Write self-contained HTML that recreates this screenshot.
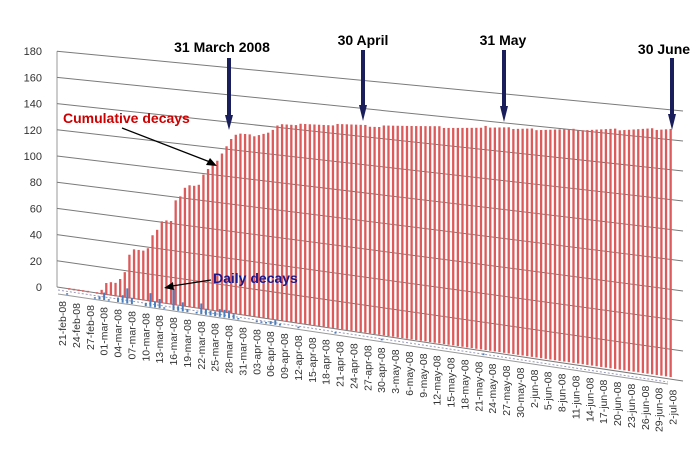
<!DOCTYPE html>
<html><head><meta charset="utf-8"><style>
html,body{margin:0;padding:0;background:#fff;}
svg{display:block;font-family:"Liberation Sans",Arial,sans-serif;}
</style></head><body>
<svg id="chart" width="700" height="456" viewBox="0 0 700 456" xmlns="http://www.w3.org/2000/svg">
<g id="grid"></g>
<g id="yaxis"></g>
<g id="bars"></g>
<g id="xaxis"></g>
<g font-weight="bold" font-size="14">
  <text x="222" y="52" text-anchor="middle" fill="#000">31 March 2008</text>
  <text x="363" y="45" text-anchor="middle" fill="#000">30 April</text>
  <text x="503" y="45" text-anchor="middle" fill="#000">31 May</text>
  <text x="664" y="54" text-anchor="middle" fill="#000">30 June</text>
  <text x="63" y="123" fill="#cc0000">Cumulative decays</text>
  <text x="213" y="283" fill="#1a1a8c">Daily decays</text>
</g>
<g>
  <g><rect x="227" y="58" width="4" height="60" fill="#1a1f5c"/><polygon points="225,115 233,115 229,130" fill="#1a1f5c"/></g>
  <g><rect x="361" y="50" width="4" height="58" fill="#1a1f5c"/><polygon points="359,105 367,105 363,121" fill="#1a1f5c"/></g>
  <g><rect x="502" y="50" width="4" height="59" fill="#1a1f5c"/><polygon points="500,106 508,106 504,122" fill="#1a1f5c"/></g>
  <g><rect x="670" y="58" width="4" height="59" fill="#1a1f5c"/><polygon points="668,114 676,114 672,130" fill="#1a1f5c"/></g>
  <line x1="122" y1="128" x2="210" y2="162" stroke="#000" stroke-width="1.3"/>
  <polygon points="217,166 206,165 210,158" fill="#000"/>
  <line x1="211" y1="280" x2="172" y2="286" stroke="#000" stroke-width="1.3"/>
  <polygon points="164,288 173,282 174,290" fill="#000"/>
</g>
</svg>
<script>
const cumulative = [0,1,1,1,1,1,0,1,3,8,9,9,12,17,29,33,33,33,35,44,48,54,55,55,69,72,78,80,80,81,88,92,95,98,103,108,113,116,117,117,117,116,117,118,119,121,124,125,125,125,125,126,126,126,126,126,126,126,126,127,127,127,127,127,127,127,126,126,126,127,127,127,127,127,127,127,127,127,127,127,127,127,126,126,126,126,126,126,126,126,126,127,126,126,126,126,126,125,125,125,125,125,124,124,124,124,124,124,124,124,124,123,123,123,123,123,123,123,123,123,122,122,122,122,122,122,122,122,121,121,121,121];
const daily = [0,1,0,0,0,0,0,1,2,5,1,0,3,5,10,4,0,0,2,9,4,6,1,0,14,3,6,2,0,1,7,4,3,3,5,5,5,3,1,0,0,0,1,1,1,2,3,1,0,0,0,1,0,0,0,0,0,0,0,1,0,0,0,0,0,0,0,0,0,1,0,0,0,0,0,0,0,0,0,0,0,0,0,0,0,0,0,0,0,0,0,1,0,0,0,0,0,0,0,0,0,0,0,0,0,0,0,0,0,0,0,0,0,0,0,0,0,0,0,0,0,0,0,0,0,0,0,0,0,0,0,0];
const yTicks = [0,20,40,60,80,100,120,140,160,180];
const xLabels = ["21-feb-08","24-feb-08","27-feb-08","01-mar-08","04-mar-08","07-mar-08","10-mar-08","13-mar-08","16-mar-08","19-mar-08","22-mar-08","25-mar-08","28-mar-08","31-mar-08","03-apr-08","06-apr-08","09-apr-08","12-apr-08","15-apr-08","18-apr-08","21-apr-08","24-apr-08","27-apr-08","30-apr-08","3-may-08","6-may-08","9-may-08","12-may-08","15-may-08","18-may-08","21-may-08","24-may-08","27-may-08","30-may-08","2-jun-08","5-jun-08","8-jun-08","11-jun-08","14-jun-08","17-jun-08","20-jun-08","23-jun-08","26-jun-08","29-jun-08","2-jul-08"];

const NS="http://www.w3.org/2000/svg";
const N = cumulative.length;
function mk(tag, attrs, parent){const e=document.createElementNS(NS,tag);for(const k in attrs)e.setAttribute(k,attrs[k]);parent.appendChild(e);return e;}
function wallY(v, side){return side===0 ? 287 - v*1.31 : 381 - v*1.5;}
function xPos(i){return 62 + i*(606/131);}
function baseY(i){return 292 + i/131*88;}
function scl(i){const t=i/131;return 1.5 + 0.55*t*t;}

const grid=document.getElementById('grid'), yaxis=document.getElementById('yaxis');
mk('line',{x1:57,y1:wallY(0,0),x2:57,y2:wallY(180,0),stroke:'#999','stroke-width':1},grid);
yTicks.forEach(v=>{
  const l=mk('line',{x1:57,y1:wallY(v,0),x2:683,y2:wallY(v,1),stroke:'#7a7a7a','stroke-width':1},grid);
  
  
  const t=mk('text',{x:42,y:wallY(v,0)+4,'text-anchor':'end','font-size':11,fill:'#333'},yaxis);
  t.textContent=v;
  
  
});
const bars=document.getElementById('bars');
mk('line',{x1:58,y1:290,x2:668,y2:382,stroke:'#9999bb','stroke-width':1,'stroke-dasharray':'2,2'},bars);
for(let i=0;i<N;i++){
  const x=xPos(i), b=baseY(i), h=cumulative[i]*scl(i);
  if(h>0){
    const r=mk('rect',{x:x+1.5,y:b-h-3,width:2.3,height:h,fill:'#dd5a5a'},bars);
    
    
  }
  const d=daily[i]*scl(i);
  if(d>0){
    const r=mk('rect',{x:x-0.5,y:b-d+2,width:2,height:d,fill:'#4a7fc0'},bars);
    
    
  }
}
mk('line',{x1:58,y1:294,x2:668,y2:384,stroke:'#999','stroke-width':1},bars);
const xaxis=document.getElementById('xaxis');
xLabels.forEach((s,k)=>{
  const i=k*3, x=xPos(i), y=baseY(i)+9;
  const t=mk('text',{x:0,y:0,transform:`translate(${x+4},${y}) rotate(-90)`,'text-anchor':'end','font-size':10.5,fill:'#333'},xaxis);
  t.textContent=s;
  
  
});
</script>
</body></html>
